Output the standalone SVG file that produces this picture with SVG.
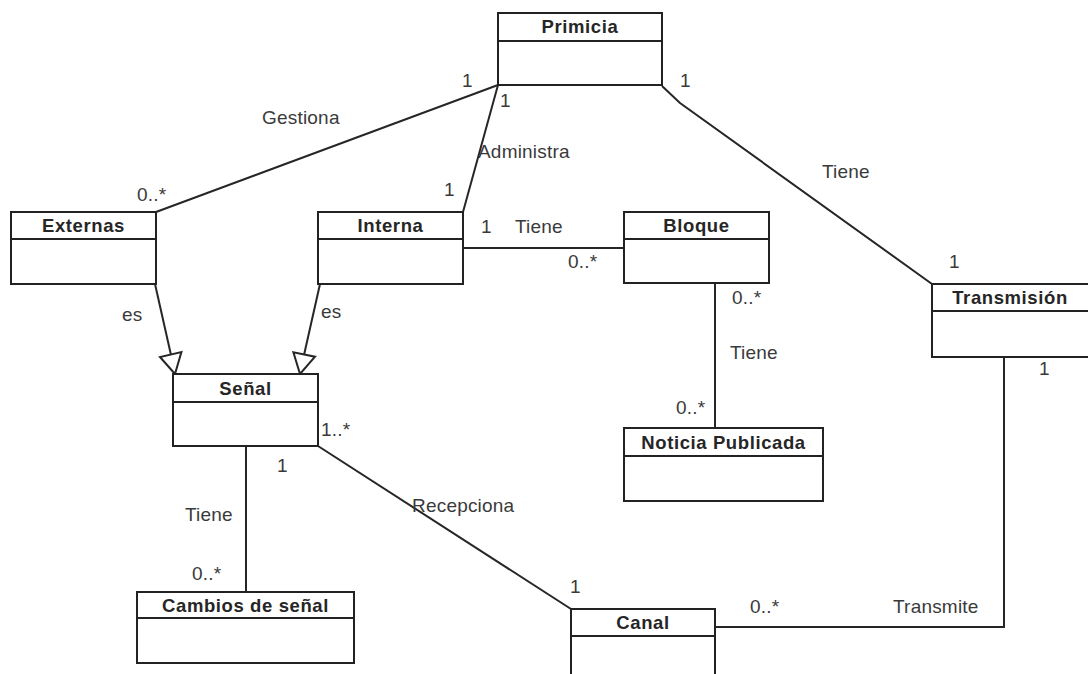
<svg xmlns="http://www.w3.org/2000/svg" width="1088" height="674" viewBox="0 0 1088 674">
  <defs>
    <style>
      .box { fill: #ffffff; stroke: #222222; stroke-width: 2; }
      .div { stroke: #222222; stroke-width: 2; }
      .title { font-family: "Liberation Sans", Arial, sans-serif; font-weight: bold; font-size: 18.5px; letter-spacing: 0.6px; fill: #262626; text-anchor: middle; }
      .edge { fill: none; stroke: #262626; stroke-width: 2; }
      .head { fill: #ffffff; stroke: #262626; stroke-width: 2; stroke-linejoin: miter; }
      .lbl { font-family: "Liberation Sans", Arial, sans-serif; font-size: 19px; letter-spacing: 0.2px; fill: #3a3a3a; }
    </style>
  </defs>
  <rect width="1088" height="674" fill="#ffffff"/>

  <!-- associations and generalizations -->
  <g id="connectors">
    <polyline class="edge" points="498,85 156,212"/>
    <polyline class="edge" points="498,85 463,212"/>
    <polyline class="edge" points="662,86 680,103 932,284"/>
    <polyline class="edge" points="463,248 624,248"/>
    <polyline class="edge" points="715,283 715,428"/>
    <polyline class="edge" points="1004,357 1004,627 715,627"/>
    <polyline class="edge" points="318,446 571,609"/>
    <polyline class="edge" points="246,446 246,592"/>
    <polyline class="edge" points="155,284 171,355"/>
    <polygon class="head" points="175,374 160,357 181.4,352"/>
    <polyline class="edge" points="320,284 304,355"/>
    <polygon class="head" points="300,374 293.4,352.2 315,356.7"/>

    <text class="lbl" x="262" y="124">Gestiona</text>
    <text class="lbl" x="462" y="87">1</text>
    <text class="lbl" x="500" y="107">1</text>
    <text class="lbl" x="478" y="158">Administra</text>
    <text class="lbl" x="444" y="196">1</text>
    <text class="lbl" x="137" y="201">0..*</text>
    <text class="lbl" x="680" y="87">1</text>
    <text class="lbl" x="822" y="178">Tiene</text>
    <text class="lbl" x="949" y="268">1</text>
    <text class="lbl" x="481" y="233">1</text>
    <text class="lbl" x="515" y="233">Tiene</text>
    <text class="lbl" x="568" y="268">0..*</text>
    <text class="lbl" x="732" y="304">0..*</text>
    <text class="lbl" x="730" y="359">Tiene</text>
    <text class="lbl" x="676" y="414">0..*</text>
    <text class="lbl" x="1039" y="375">1</text>
    <text class="lbl" x="122" y="321">es</text>
    <text class="lbl" x="321" y="318">es</text>
    <text class="lbl" x="321" y="436">1..*</text>
    <text class="lbl" x="277" y="472">1</text>
    <text class="lbl" x="185" y="521">Tiene</text>
    <text class="lbl" x="192" y="580">0..*</text>
    <text class="lbl" x="412" y="512">Recepciona</text>
    <text class="lbl" x="570" y="593">1</text>
    <text class="lbl" x="750" y="613">0..*</text>
    <text class="lbl" x="893" y="613">Transmite</text>
  </g>

  <g id="primicia">
    <rect class="box" x="498" y="13" width="164" height="72"/>
    <line class="div" x1="498" y1="41" x2="662" y2="41"/>
    <text class="title" x="580" y="33">Primicia</text>
  </g>

  <g id="externas">
    <rect class="box" x="11" y="212" width="145" height="72"/>
    <line class="div" x1="11" y1="239" x2="156" y2="239"/>
    <text class="title" x="83.5" y="232">Externas</text>
  </g>

  <g id="interna">
    <rect class="box" x="318" y="212" width="145" height="72"/>
    <line class="div" x1="318" y1="239" x2="463" y2="239"/>
    <text class="title" x="390.5" y="232">Interna</text>
  </g>

  <g id="bloque">
    <rect class="box" x="624" y="212" width="145" height="71"/>
    <line class="div" x1="624" y1="239" x2="769" y2="239"/>
    <text class="title" x="696.5" y="232">Bloque</text>
  </g>

  <g id="transmision">
    <rect class="box" x="932" y="284" width="170" height="73"/>
    <line class="div" x1="932" y1="311" x2="1102" y2="311"/>
    <text class="title" x="1010" y="304">Transmisión</text>
  </g>

  <g id="senal">
    <rect class="box" x="173" y="374" width="145" height="72"/>
    <line class="div" x1="173" y1="402" x2="318" y2="402"/>
    <text class="title" x="245.5" y="395">Señal</text>
  </g>

  <g id="noticia-publicada">
    <rect class="box" x="624" y="428" width="199" height="73"/>
    <line class="div" x1="624" y1="456" x2="823" y2="456"/>
    <text class="title" x="723.5" y="449">Noticia Publicada</text>
  </g>

  <g id="cambios-de-senal">
    <rect class="box" x="137" y="592" width="217" height="71"/>
    <line class="div" x1="137" y1="618" x2="354" y2="618"/>
    <text class="title" x="245.5" y="612">Cambios de señal</text>
  </g>

  <g id="canal">
    <rect class="box" x="571" y="609" width="144" height="80"/>
    <line class="div" x1="571" y1="636" x2="715" y2="636"/>
    <text class="title" x="643" y="629">Canal</text>
  </g>
</svg>
